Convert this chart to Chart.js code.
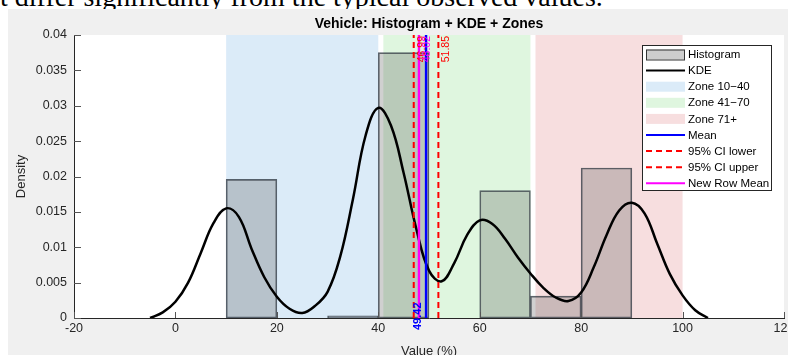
<!DOCTYPE html>
<html>
<head>
<meta charset="utf-8">
<script src="https://cdn.jsdelivr.net/npm/chart.js@4.4.1/dist/chart.umd.min.js"></script>
<style>
  html, body { margin: 0; padding: 0; background: #fff; overflow: hidden; width: 788px; height: 355px; }
  #caption { position: absolute; left: 0; top: -17px; font: 28px/28px "Liberation Serif", "DejaVu Serif", serif; color: #000; white-space: nowrap; }
  #wrap { position: absolute; left: 0; top: 0; width: 800px; height: 370px; }
</style>
</head>
<body>
<div id="caption">t differ significantly from the typical observed values.</div>
<div id="wrap"><canvas id="kdeChart" width="800" height="370"></canvas></div>
<script>
// histogram bins (width 10) and their density
const binCenters = [15, 25, 35, 45, 55, 65, 75, 85, 95];
const binDensity = [0.0196, 0, 0.0003, 0.0375, 0, 0.0180, 0.0031, 0.0212, 0];

// kernel density estimate
const kdeX = [-5, -2.5, 0, 2.5, 5, 7.5, 10, 12.5, 15, 17.5, 20, 22.5, 25, 27.5, 30, 32.5, 35, 37.5,
              40, 42.5, 45, 47.5, 50, 52.5, 55, 57.5, 60, 62.5, 65, 67.5, 70, 72.5, 75, 77.5,
              80, 82.5, 85, 87.5, 90, 92.5, 95, 97.5, 100, 102.5, 105];
const kdeY = [0.0000, 0.0008, 0.0023, 0.0050, 0.0092, 0.0134, 0.0155, 0.0143, 0.0098, 0.0058, 0.0030,
              0.0013, 0.0007, 0.0017, 0.0037, 0.0087, 0.0168, 0.0258, 0.0297, 0.0272, 0.0205, 0.0126,
              0.0067, 0.0052, 0.0078, 0.0117, 0.0138, 0.0133, 0.0112, 0.0086, 0.0063, 0.0043, 0.0029,
              0.0024, 0.0036, 0.0072, 0.0117, 0.0152, 0.0163, 0.0148, 0.0105, 0.0062, 0.0032, 0.0011, 0.0000];

// score zones
const zoneNames = ['Zone 10\u221240', 'Zone 41\u221270', 'Zone 71+'];
const zoneStart = [10, 41, 71];
const zoneEnd = [40, 70, 100];

// summary lines
const meanValue = 49.42;
const ciLower = 46.99;
const ciUpper = 51.85;
const newRowMean = 48.02;

const xMin = -20, xMax = 120, yMin = 0, yMax = 0.04;

const FONT = '"Liberation Sans", Arial, Helvetica, sans-serif';
const AXIS = '#262626';
const zoneFill = ['#dbebf8', '#dff6df', '#f7dedf'];

Chart.defaults.font.family = FONT;

function vline(label, x, color, dash, order) {
  return {
    type: 'line', label: label,
    data: [{ x: x, y: yMin }, { x: x, y: yMax }],
    borderColor: color, borderWidth: dash ? 2 : 2.4, borderDash: dash || [],
    pointRadius: 0, order: order
  };
}

// grey figure panel, white axes and the zone bands
const backdrop = {
  id: 'backdrop',
  beforeDraw(chart) {
    const { ctx, chartArea: a } = chart;
    const x = chart.scales.x;
    ctx.save();
    ctx.fillStyle = '#f0f0f0';
    ctx.fillRect(8, 9, chart.width - 8, chart.height - 9);
    ctx.fillStyle = '#fff';
    ctx.fillRect(a.left, a.top, a.right - a.left, a.bottom - a.top);
    zoneStart.forEach((s, i) => {
      const x0 = x.getPixelForValue(s), x1 = x.getPixelForValue(zoneEnd[i]);
      ctx.fillStyle = zoneFill[i];
      ctx.fillRect(x0, a.top, x1 - x0, a.bottom - a.top);
    });
    ctx.restore();
  }
};

function rotText(ctx, text, px, py, align) {
  ctx.save();
  ctx.translate(px, py);
  ctx.rotate(-Math.PI / 2);
  ctx.textAlign = align;
  ctx.textBaseline = 'middle';
  ctx.fillText(text, 0, 0);
  ctx.restore();
}

const legendItems = [
  { text: 'Histogram', kind: 'patch', fill: '#cdcdcd', stroke: '#333' },
  { text: 'KDE', kind: 'line', color: '#000' },
  { text: zoneNames[0], kind: 'patch', fill: zoneFill[0] },
  { text: zoneNames[1], kind: 'patch', fill: zoneFill[1] },
  { text: zoneNames[2], kind: 'patch', fill: zoneFill[2] },
  { text: 'Mean', kind: 'line', color: '#0000ff' },
  { text: '95% CI lower', kind: 'line', color: '#ff0000', dash: [6, 4] },
  { text: '95% CI upper', kind: 'line', color: '#ff0000', dash: [6, 4] },
  { text: 'New Row Mean', kind: 'line', color: '#ff00ff' }
];

// inward ticks, line labels, title and legend
const overlay = {
  id: 'overlay',
  afterDatasetsDraw(chart) {
    const { ctx, chartArea: a } = chart;
    const x = chart.scales.x, y = chart.scales.y;
    ctx.save();
    ctx.strokeStyle = '#555';
    ctx.lineWidth = 1;
    ctx.beginPath();
    x.ticks.forEach(t => {
      const px = Math.round(x.getPixelForValue(t.value)) + 0.5;
      ctx.moveTo(px, a.bottom); ctx.lineTo(px, a.bottom - 6);
    });
    y.ticks.forEach(t => {
      const py = Math.round(y.getPixelForValue(t.value)) + 0.5;
      ctx.moveTo(a.left, py); ctx.lineTo(a.left + 7, py);
    });
    ctx.stroke();

    ctx.font = '10.5px ' + FONT;
    ctx.fillStyle = '#ff0000';
    rotText(ctx, ciUpper.toFixed(2), x.getPixelForValue(ciUpper) + 8, a.top + 1, 'right');
    rotText(ctx, ciLower.toFixed(2), x.getPixelForValue(ciLower) + 8, a.top + 1, 'right');
    ctx.fillStyle = '#ff00ff';
    rotText(ctx, newRowMean.toFixed(2), x.getPixelForValue(newRowMean) + 8, a.top + 1, 'right');
    ctx.font = 'bold 11px ' + FONT;
    ctx.fillStyle = '#0000ff';
    rotText(ctx, meanValue.toFixed(2), x.getPixelForValue(meanValue) - 8, a.bottom + 12, 'left');
    ctx.restore();
  },
  afterDraw(chart) {
    const { ctx, chartArea: a } = chart;
    ctx.save();
    ctx.fillStyle = '#000';
    ctx.font = 'bold 14px ' + FONT;
    ctx.textAlign = 'center';
    ctx.textBaseline = 'alphabetic';
    ctx.fillText('Vehicle: Histogram + KDE + Zones', (a.left + a.right) / 2, 27.5);

    const bx = 642.5, by = 45.5, bw = 129, bh = 145, row = 16.1;
    ctx.fillStyle = '#fff';
    ctx.fillRect(bx, by, bw, bh);
    ctx.strokeStyle = AXIS;
    ctx.lineWidth = 1;
    ctx.strokeRect(bx, by, bw, bh);
    ctx.font = '11.5px ' + FONT;
    ctx.textAlign = 'left';
    ctx.textBaseline = 'middle';
    legendItems.forEach((it, i) => {
      const cy = by + 9 + i * row;
      if (it.kind === 'patch') {
        ctx.fillStyle = it.fill;
        ctx.fillRect(646, cy - 5, 39, 10);
        if (it.stroke) {
          ctx.strokeStyle = it.stroke;
          ctx.strokeRect(646.5, cy - 4.5, 38, 10);
        }
      } else {
        ctx.strokeStyle = it.color;
        ctx.lineWidth = 2;
        ctx.setLineDash(it.dash || []);
        ctx.beginPath();
        ctx.moveTo(646, cy); ctx.lineTo(685, cy);
        ctx.stroke();
        ctx.setLineDash([]);
        ctx.lineWidth = 1;
      }
      ctx.fillStyle = '#000';
      ctx.fillText(it.text, 688, cy + 0.5);
    });
    ctx.restore();
  }
};

new Chart(document.getElementById('kdeChart'), {
  type: 'bar',
  data: {
    datasets: [
      {
        type: 'bar', label: 'Histogram',
        data: binCenters.map((c, i) => ({ x: c, y: binDensity[i] })),
        backgroundColor: 'rgba(100,100,100,0.3)',
        borderColor: 'rgba(40,50,60,0.75)', borderWidth: 1, borderSkipped: false,
        barPercentage: 1, categoryPercentage: 1, order: 10
      },
      {
        type: 'line', label: 'KDE',
        data: kdeX.map((v, i) => ({ x: v, y: kdeY[i] })),
        borderColor: '#000', borderWidth: 2.5, pointRadius: 0,
        tension: 0.4, order: 5
      },
      vline('95% CI lower', ciLower, '#ff0000', [6, 4], 3),
      vline('95% CI upper', ciUpper, '#ff0000', [6, 4], 3),
      vline('New Row Mean', newRowMean, '#ff00ff', null, 2),
      vline('Mean', meanValue, '#0000ff', null, 1)
    ]
  },
  options: {
    responsive: false,
    animation: false,
    layout: { padding: { left: 0, right: 16, top: 35, bottom: 0 } },
    plugins: { legend: { display: false }, tooltip: { enabled: false }, title: { display: false } },
    scales: {
      x: {
        type: 'linear', min: xMin, max: xMax, offset: false,
        ticks: { stepSize: 20, color: AXIS, font: { size: 12.5 }, padding: 3, maxRotation: 0, autoSkip: false },
        grid: { display: false, drawTicks: false },
        border: { display: true, color: AXIS, width: 1 },
        title: { display: true, text: 'Value (%)', color: AXIS, font: { size: 13 }, padding: { top: 0, bottom: 11 } },
        afterFit: s => { s.height = 52; }
      },
      y: {
        type: 'linear', min: yMin, max: yMax,
        ticks: { stepSize: 0.005, color: AXIS, font: { size: 12.5 }, padding: 7,
                 callback: v => String(+v.toFixed(3)) },
        grid: { display: false, drawTicks: false },
        border: { display: true, color: AXIS, width: 1 },
        title: { display: true, text: 'Density', color: AXIS, font: { size: 13 }, padding: { top: 14, bottom: 0 } },
        afterFit: s => { s.width = 74; }
      }
    }
  },
  plugins: [backdrop, overlay]
});
</script>
</body>
</html>
